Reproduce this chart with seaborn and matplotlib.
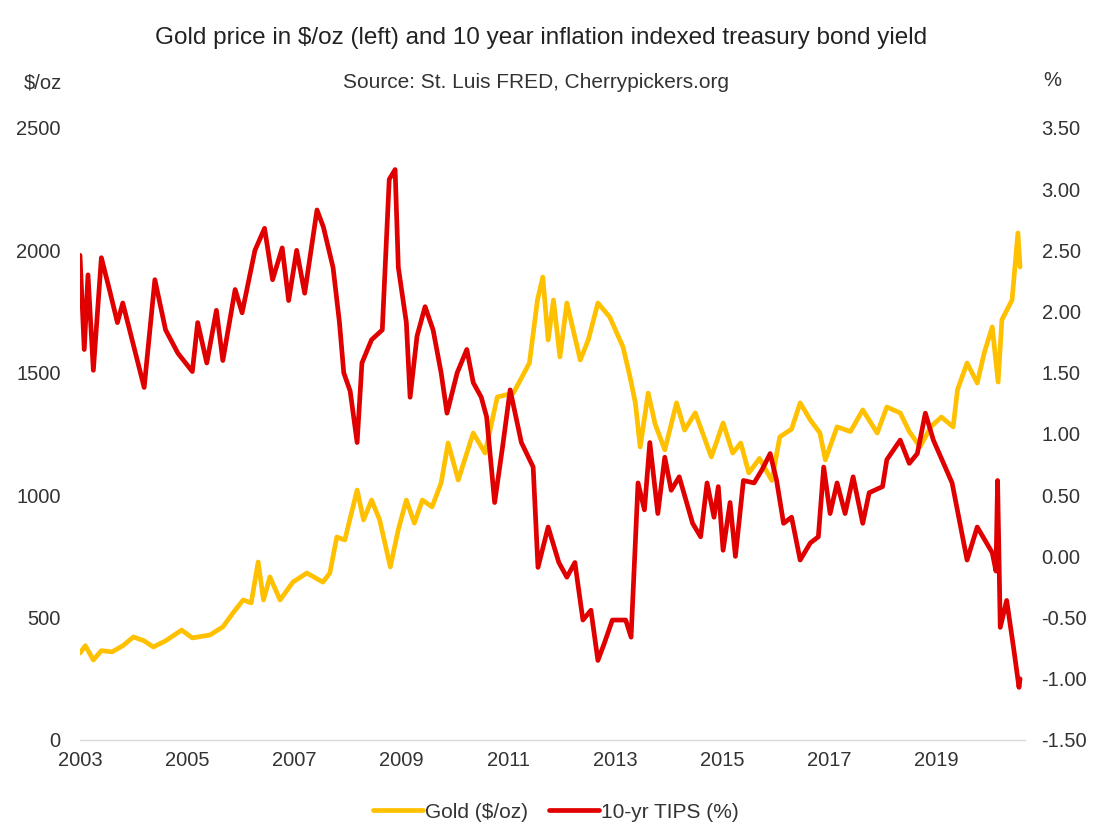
import numpy as np
import pandas as pd
import matplotlib
matplotlib.use("Agg")
import matplotlib.pyplot as plt
import seaborn as sns
from matplotlib.lines import Line2D

# Gold price, $/oz
gold_years = [2003.0, 2003.1, 2003.25, 2003.4, 2003.6, 2003.8, 2004.0, 2004.2, 2004.37, 2004.6,
              2004.9, 2005.1, 2005.43, 2005.67, 2005.86, 2006.05, 2006.2, 2006.33, 2006.43, 2006.55,
              2006.74, 2006.98, 2007.24, 2007.54, 2007.67, 2007.8, 2007.95, 2008.18, 2008.3, 2008.45,
              2008.6, 2008.8, 2008.95, 2009.1, 2009.25, 2009.4, 2009.58, 2009.75, 2009.88, 2010.07,
              2010.35, 2010.57, 2010.8, 2011.1, 2011.4, 2011.55, 2011.65, 2011.75, 2011.85, 2011.97,
              2012.1, 2012.35, 2012.5, 2012.68, 2012.9, 2013.15, 2013.28, 2013.38, 2013.47, 2013.62,
              2013.75, 2013.93, 2014.15, 2014.3, 2014.5, 2014.8, 2015.02, 2015.2, 2015.35, 2015.5,
              2015.7, 2015.93, 2016.08, 2016.3, 2016.46, 2016.65, 2016.83, 2016.93, 2017.15, 2017.4,
              2017.63, 2017.9, 2018.08, 2018.33, 2018.5, 2018.7, 2018.9, 2019.1, 2019.32, 2019.4,
              2019.58, 2019.77, 2019.9, 2020.05, 2020.16, 2020.23, 2020.42, 2020.53, 2020.57]
gold_price = [355, 385, 327, 365, 360, 385, 421, 405, 380, 405,
              449, 417, 429, 462, 519, 572, 560, 727, 572, 666,
              572, 645, 682, 645, 682, 829, 817, 1021, 899, 980,
              900, 707, 860, 980, 886, 980, 952, 1050, 1213, 1062,
              1254, 1172, 1401, 1417, 1540, 1797, 1891, 1634, 1797, 1565,
              1785, 1552, 1634, 1785, 1728, 1605, 1483, 1377, 1197, 1417,
              1290, 1185, 1377, 1266, 1336, 1156, 1295, 1172, 1213, 1091,
              1150, 1060, 1238, 1270, 1377, 1307, 1254, 1144, 1279, 1260,
              1348, 1254, 1360, 1336, 1260, 1197, 1279, 1319, 1279, 1430,
              1540, 1458, 1581, 1687, 1462, 1716, 1797, 2071, 1932]

# 10-yr TIPS yield, %
tips_years = [2003.0, 2003.08, 2003.15, 2003.25, 2003.4, 2003.55, 2003.7, 2003.8, 2004.2, 2004.4,
              2004.6, 2004.83, 2005.1, 2005.2, 2005.37, 2005.55, 2005.67, 2005.9, 2006.03, 2006.27,
              2006.45, 2006.6, 2006.78, 2006.9, 2007.05, 2007.2, 2007.43, 2007.55, 2007.73, 2007.85,
              2007.93, 2008.05, 2008.18, 2008.27, 2008.45, 2008.65, 2008.78, 2008.89, 2008.95, 2009.1,
              2009.17, 2009.3, 2009.45, 2009.6, 2009.75, 2009.86, 2010.05, 2010.23, 2010.35, 2010.5,
              2010.6, 2010.75, 2010.9, 2011.04, 2011.25, 2011.47, 2011.56, 2011.75, 2011.95, 2012.1,
              2012.25, 2012.4, 2012.55, 2012.68, 2012.8, 2012.95, 2013.2, 2013.3, 2013.43, 2013.55,
              2013.65, 2013.8, 2013.93, 2014.05, 2014.2, 2014.45, 2014.6, 2014.72, 2014.85, 2014.93,
              2015.02, 2015.15, 2015.25, 2015.4, 2015.6, 2015.75, 2015.9, 2016.02, 2016.15, 2016.3,
              2016.46, 2016.65, 2016.8, 2016.9, 2017.02, 2017.15, 2017.3, 2017.45, 2017.63, 2017.75,
              2018.0, 2018.08, 2018.33, 2018.5, 2018.65, 2018.8, 2018.95, 2019.3, 2019.58, 2019.77,
              2020.05, 2020.12, 2020.15, 2020.2, 2020.32, 2020.45, 2020.55, 2020.57]
tips_yield = [2.46, 1.69, 2.30, 1.52, 2.44, 2.18, 1.91, 2.07, 1.38, 2.26,
              1.85, 1.66, 1.51, 1.91, 1.58, 2.01, 1.60, 2.18, 1.99, 2.50,
              2.68, 2.26, 2.52, 2.09, 2.50, 2.15, 2.83, 2.69, 2.36, 1.91,
              1.50, 1.35, 0.93, 1.58, 1.77, 1.85, 3.08, 3.16, 2.36, 1.91,
              1.30, 1.80, 2.04, 1.85, 1.50, 1.17, 1.50, 1.69, 1.42, 1.30,
              1.14, 0.44, 0.90, 1.36, 0.93, 0.73, -0.09, 0.24, -0.05, -0.17,
              -0.05, -0.52, -0.44, -0.85, -0.71, -0.52, -0.52, -0.66, 0.60, 0.38,
              0.93, 0.35, 0.81, 0.54, 0.65, 0.27, 0.16, 0.60, 0.32, 0.57,
              0.05, 0.44, 0.00, 0.62, 0.60, 0.71, 0.84, 0.62, 0.27, 0.32,
              -0.03, 0.11, 0.16, 0.73, 0.35, 0.60, 0.35, 0.65, 0.27, 0.52,
              0.57, 0.79, 0.95, 0.76, 0.84, 1.17, 0.95, 0.60, -0.03, 0.24,
              0.03, -0.12, 0.62, -0.58, -0.36, -0.75, -1.07, -1.00]

year_ticks = [2003, 2005, 2007, 2009, 2011, 2013, 2015, 2017, 2019]
gold_ticks = [0, 500, 1000, 1500, 2000, 2500]
tips_ticks = [-1.5, -1.0, -0.5, 0.0, 0.5, 1.0, 1.5, 2.0, 2.5, 3.0, 3.5]

GOLD = "#FFC000"
RED = "#E00000"
TXT = "#333333"

sns.set_style("white")
plt.rcParams["font.family"] = ["Liberation Sans", "DejaVu Sans"]

gold_df = pd.DataFrame({"year": gold_years, "price": gold_price})
tips_df = pd.DataFrame({"year": tips_years, "yield": tips_yield})

fig = plt.figure(figsize=(11, 8.39), dpi=100)
ax = fig.add_axes([0.0727, 0.118, 0.859, 0.7295])
ax2 = ax.twinx()

sns.lineplot(data=gold_df, x="year", y="price", ax=ax, color=GOLD, linewidth=3.4,
             solid_joinstyle="round")
sns.lineplot(data=tips_df, x="year", y="yield", ax=ax2, color=RED, linewidth=3.4,
             solid_joinstyle="round")

ax.set_xlim(2003, 2020.66)
ax.set_ylim(0, 2500)
ax2.set_ylim(-1.5, 3.5)
ax.set_xticks(year_ticks)
ax.set_xticklabels([str(y) for y in year_ticks])
ax.set_yticks(gold_ticks)
ax.set_yticklabels([str(v) for v in gold_ticks])
ax2.set_yticks(tips_ticks)
ax2.set_yticklabels([f"{v:.2f}" for v in tips_ticks])

for a in (ax, ax2):
    for s in a.spines.values():
        s.set_visible(False)
    a.set_xlabel("")
    a.set_ylabel("")
ax.spines["bottom"].set_visible(True)
ax.spines["bottom"].set_color("#d9d9d9")
ax.spines["bottom"].set_linewidth(1.0)

ax.tick_params(axis="x", colors="#d9d9d9", length=5, width=1, labelcolor=TXT,
               labelsize=14.5, pad=3, direction="out")
ax.tick_params(axis="y", length=0, labelcolor=TXT, labelsize=14.5, pad=14)
ax2.tick_params(axis="y", length=0, labelcolor=TXT, labelsize=14.5, pad=12)

fig.text(0.492, 0.955, "Gold price in $/oz (left) and 10 year inflation indexed treasury bond yield",
         ha="center", va="center", fontsize=17.5, color="#222222")
fig.text(0.487, 0.902, "Source: St. Luis FRED, Cherrypickers.org",
         ha="center", va="center", fontsize=15, color=TXT)
fig.text(0.056, 0.901, "$/oz", ha="right", va="center", fontsize=14.5, color=TXT)
fig.text(0.957, 0.904, "%", ha="center", va="center", fontsize=14.5, color=TXT)

handles = [Line2D([0], [0], color=GOLD, lw=3.4), Line2D([0], [0], color=RED, lw=3.4)]
fig.legend(handles, ["Gold ($/oz)", "10-yr TIPS (%)"], loc="center", bbox_to_anchor=(0.505, 0.032),
           ncol=2, frameon=False, fontsize=15, handlelength=2.4, handletextpad=0.1,
           columnspacing=1.0, labelcolor=TXT)

fig.savefig("out.png", dpi=100)
